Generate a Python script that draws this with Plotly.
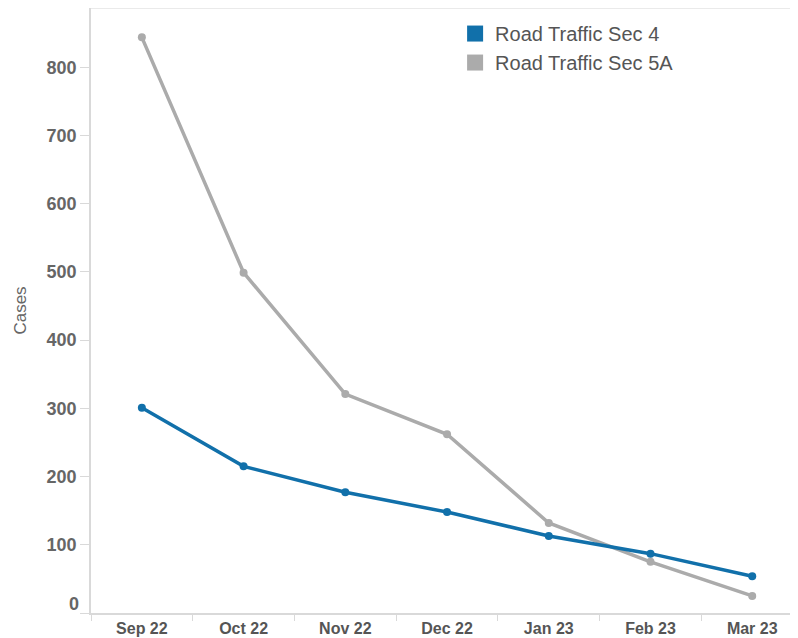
import plotly.graph_objects as go

# monthly case counts
months = ["Sep 22", "Oct 22", "Nov 22", "Dec 22", "Jan 23", "Feb 23", "Mar 23"]
sec4 = [301, 215, 177, 148, 113, 87, 54]
sec5a = [844, 499, 321, 262, 132, 75, 25]
yticks = [0, 100, 200, 300, 400, 500, 600, 700, 800]

blue = "#1170aa"
grey = "#ababab"
txt = "#666666"

fig = go.Figure()

# lines with dots (no legend entry, the legend uses squares)
fig.add_trace(go.Scatter(x=months, y=sec5a, mode="lines+markers",
                         line=dict(color=grey, width=3.5),
                         marker=dict(color=grey, size=8),
                         showlegend=False, name="Road Traffic Sec 5A"))
fig.add_trace(go.Scatter(x=months, y=sec4, mode="lines+markers",
                         line=dict(color=blue, width=3.5),
                         marker=dict(color=blue, size=8),
                         showlegend=False, name="Road Traffic Sec 4"))

# legend swatches
for name, col in [("Road Traffic Sec 4", blue), ("Road Traffic Sec 5A", grey)]:
    fig.add_trace(go.Scatter(x=[None], y=[None], mode="markers", name=name,
                             marker=dict(symbol="square", size=21, color=col)))

# page body has an 8px margin, so the figure is 8px smaller than the window
fig.update_layout(
    width=790, height=630,
    paper_bgcolor="white", plot_bgcolor="white",
    margin=dict(l=83, r=0, t=0, b=25),
    font=dict(family="Liberation Sans, Arial, sans-serif", color=txt),
    legend=dict(x=0.515, y=0.99, xanchor="left", yanchor="top",
                font=dict(size=20, color="#555555"),
                bgcolor="rgba(0,0,0,0)", itemwidth=30),
    xaxis=dict(
        range=[-0.5, 6.45], tickson="boundaries", ticks="outside",
        ticklen=6, tickcolor="#d9d9d9", showline=True, linecolor="#d9d9d9",
        linewidth=1.5, showgrid=False, zeroline=False,
        tickfont=dict(size=16, color="#555555", weight="bold",
                      family="Liberation Sans Narrow, Liberation Sans, Arial"),
        automargin=False,
    ),
    yaxis=dict(
        range=[0, 887], tickvals=yticks,
        ticktext=["" if v == 0 else str(v) for v in yticks],
        ticks="outside", ticklen=9, tickcolor="#d9d9d9",
        showline=True, linecolor="#d9d9d9", linewidth=1.5,
        showgrid=False, zeroline=False,
        tickfont=dict(size=18, color=txt, weight="bold"),
        title=dict(text="Cases", font=dict(size=17, color=txt), standoff=16),
        automargin=False,
    ),
)

# bottom "0" label sits a little above its tick, as in the reference
fig.add_annotation(x=0, xref="paper", xanchor="right", xshift=-10,
                   y=0, yref="y", yanchor="middle", yshift=9,
                   text="0", showarrow=False,
                   font=dict(size=18, color=txt, weight="bold"))

# thin frame line along the top of the plot area
fig.add_shape(type="line", xref="paper", yref="paper", x0=0, x1=1, y0=1, y1=1,
              line=dict(color="#e3e3e3", width=1.5))

fig.write_html("out.html")
